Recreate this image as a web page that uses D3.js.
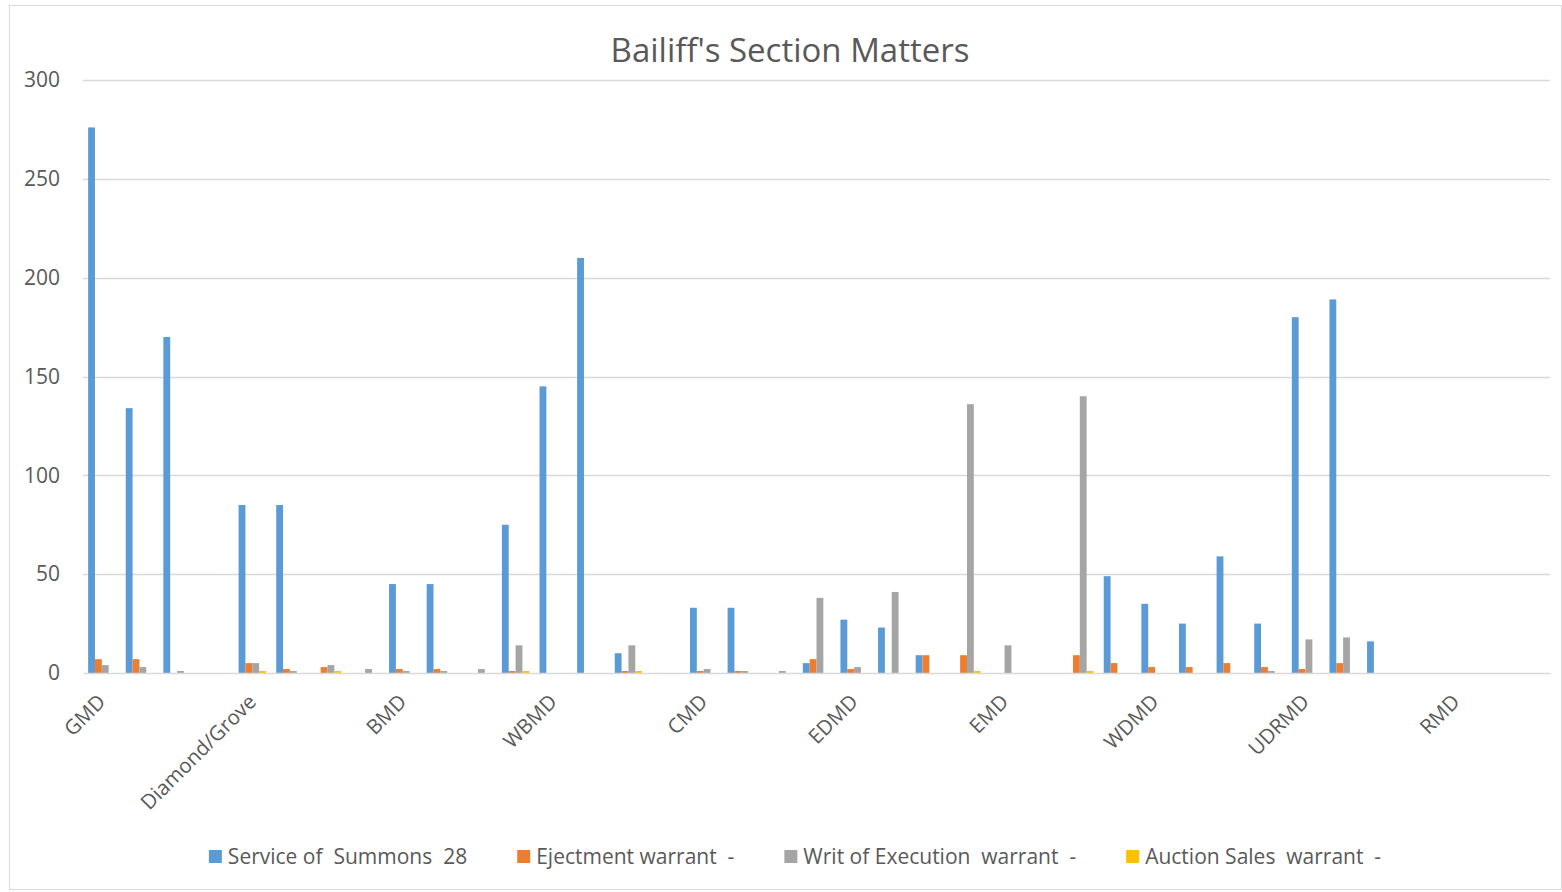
<!DOCTYPE html>
<html>
<head>
<meta charset="utf-8">
<script src="https://cdn.jsdelivr.net/npm/d3@7"></script>
<style>
  html, body { margin: 0; padding: 0; background: #fff; }
  svg text { font-family: "Open Sans", "Noto Sans", sans-serif; white-space: pre; }
</style>
</head>
<body>
<svg id="chart" width="1562" height="892"></svg>
<script>
// ---- data ----
const categories = ["GMD","","","","Diamond/Grove","","","","BMD","","","","WBMD","","","","CMD","","","","EDMD","","","","EMD","","","","WDMD","","","","UDRMD","","","","RMD","",""];
const seriesNames = ["Service of  Summons  28","Ejectment warrant  -","Writ of Execution  warrant  -","Auction Sales  warrant  -"];
const serviceOfSummons = [276,134,170,0,85,85,0,0,45,45,0,75,145,210,10,0,33,33,0,5,27,23,9,0,0,0,0,49,35,25,59,25,180,189,16,0,0,0,0];
const ejectmentWarrant = [7,7,0,0,5,2,3,0,2,2,0,1,0,0,1,0,1,1,0,7,2,0,9,9,0,0,9,5,3,3,5,3,2,5,0,0,0,0,0];
const writOfExecution = [4,3,1,0,5,1,4,2,1,1,2,14,0,0,14,0,2,1,1,38,3,41,0,136,14,0,140,0,0,0,0,1,17,18,0,0,0,0,0];
const auctionSales = [0,0,0,0,1,0,1,0,0,0,0,1,0,0,1,0,0,0,0,0,0,0,0,1,0,0,1,0,0,0,0,0,0,0,0,0,0,0,0];
const yTicks = [0,50,100,150,200,250,300];
const colors = ["#5B9BD5","#ED7D31","#A5A5A5","#FFC000"];
const title = "Bailiff's Section Matters";

const seriesValues = [serviceOfSummons, ejectmentWarrant, writOfExecution, auctionSales];

// ---- layout ----
const svg = d3.select("#chart");
const W = 1562, H = 892;
const plot = {left: 83, right: 1550, top: 80, bottom: 673};

svg.append("rect").attr("x", 9.5).attr("y", 5.5).attr("width", W - 10).attr("height", H - 8)
  .attr("fill", "#fff").attr("stroke", "#d9d9d9").attr("stroke-width", 1);

const idx = d3.range(categories.length);
const x0 = d3.scaleBand().domain(idx).range([plot.left, plot.right]).paddingInner(0).paddingOuter(0);
const x1 = d3.scaleBand().domain(d3.range(seriesNames.length)).range([0, x0.bandwidth()]).paddingInner(0).paddingOuter(0.75);
const y = d3.scaleLinear().domain([0, 300]).range([plot.bottom, plot.top]);

// gridlines
svg.append("g").selectAll("line").data(yTicks.filter(t => t > 0)).join("line")
  .attr("x1", plot.left).attr("x2", plot.right)
  .attr("y1", d => Math.round(y(d)) + 0.5).attr("y2", d => Math.round(y(d)) + 0.5)
  .attr("stroke", "#d9d9d9").attr("stroke-width", 1.5);

// y axis labels
const yAxis = d3.axisLeft(y).tickValues(yTicks).tickSize(0).tickPadding(0);
const gy = svg.append("g").attr("transform", `translate(60,0)`).call(yAxis);
gy.select(".domain").remove();
gy.selectAll("text").attr("font-size", 21).attr("fill", "#595959")
  .style("font-family", '"Open Sans", sans-serif');

// bars
const groups = svg.append("g").selectAll("g").data(idx).join("g")
  .attr("transform", d => `translate(${x0(d)},0)`);
groups.selectAll("rect")
  .data(i => seriesValues.map((vals, s) => ({s, v: vals[i]})))
  .join("rect")
  .attr("x", d => x1(d.s))
  .attr("width", x1.bandwidth())
  .attr("y", d => y(d.v))
  .attr("height", d => y(0) - y(d.v))
  .attr("fill", d => colors[d.s]);

// x axis
const xAxis = d3.axisBottom(x0).tickSize(0).tickFormat(i => categories[i]);
const gx = svg.append("g").attr("transform", `translate(0,${plot.bottom})`).call(xAxis);
gx.select(".domain").attr("stroke", "#d9d9d9").attr("stroke-width", 1.5);
gx.selectAll(".tick text")
  .attr("font-size", 20.5).attr("fill", "#595959")
  .style("font-family", '"Open Sans", sans-serif')
  .attr("text-anchor", "end")
  .attr("dy", "0.35em")
  .attr("y", 0)
  .attr("transform", "translate(0,25) rotate(-45)");

// title
svg.append("text").attr("x", 790).attr("y", 62).attr("text-anchor", "middle")
  .attr("font-size", 33).attr("fill", "#595959").text(title);

// legend
const leg = svg.append("g").attr("transform", "translate(0,857)");
const items = leg.selectAll("g").data(seriesNames).join("g");
items.append("rect").attr("width", 13).attr("height", 13).attr("y", -7)
  .attr("fill", (d, i) => colors[i]);
items.append("text").attr("x", 19).attr("dy", "0.35em").attr("font-size", 21)
  .attr("fill", "#595959").text(d => d);
let cx = 0;
const positions = [];
items.each(function() {
  const w = 19 + this.querySelector("text").getComputedTextLength();
  positions.push(cx);
  cx += w + 50;
});
const total = cx - 50;
const start = 795 - total / 2;
items.attr("transform", (d, i) => `translate(${start + positions[i]},0)`);
</script>
</body>
</html>
